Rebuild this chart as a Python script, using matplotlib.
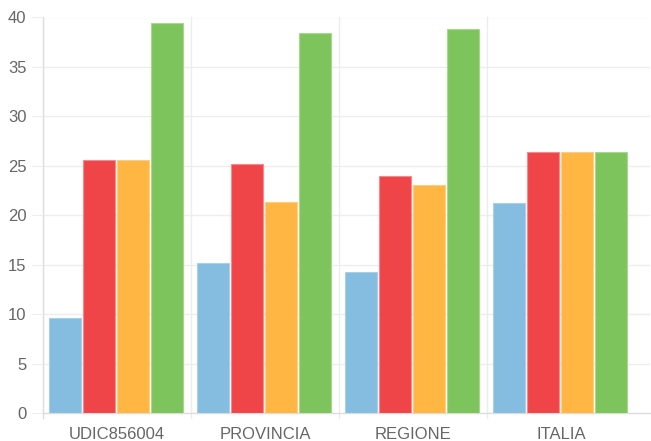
import matplotlib
matplotlib.use("Agg")
import matplotlib.pyplot as plt
import numpy as np

categories = ["UDIC856004", "PROVINCIA", "REGIONE", "ITALIA"]
series_blue = [9.6, 15.2, 14.3, 21.2]
series_red = [25.6, 25.2, 24.0, 26.4]
series_orange = [25.6, 21.3, 23.1, 26.4]
series_green = [39.4, 38.4, 38.8, 26.4]
yticks = [0, 5, 10, 15, 20, 25, 30, 35, 40]

colors = ["#85bde0", "#f04548", "#ffb642", "#7ec45c"]
edges = ["#a9d0ea", "#f58a8c", "#ffcd80", "#a8d88f"]

W, H = 651, 441
fig = plt.figure(figsize=(W / 100, H / 100), dpi=100)
left, right, top, bottom = 43, 650, 17.5, 413
ax = fig.add_axes([left / W, 1 - bottom / H, (right - left) / W, (bottom - top) / H])

cat_w = 148.0
x = np.arange(len(categories))
bw = 34.0 / cat_w
series = [series_blue, series_red, series_orange, series_green]
for i, s in enumerate(series):
    offs = (i - 1.5) * bw - 1.0 / cat_w
    ax.bar(x + offs, s, width=bw - 1.2 / cat_w, color=colors[i], edgecolor=edges[i],
           linewidth=0.8, zorder=3)

ax.set_xlim(-0.5, -0.5 + (right - left) / cat_w)
ax.set_ylim(0, 40)
ax.set_yticks(yticks)
ax.set_yticklabels([str(v) for v in yticks])
ax.set_xticks(x)
ax.set_xticklabels(categories)

grid_c = "#ededed"
for v in yticks[1:]:
    ax.axhline(v, color=grid_c, lw=1, zorder=1)
for b in [0.5, 1.5, 2.5]:
    ax.plot([b, b], [-0.55, 40], color=grid_c, lw=1, zorder=1, clip_on=False)
ax.plot([-0.5, -0.5], [-0.55, 40], color="#dcdcdc", lw=1, zorder=1, clip_on=False)

for sp in ["top", "right", "left"]:
    ax.spines[sp].set_visible(False)
ax.spines["bottom"].set_color("#dcdcdc")
ax.spines["bottom"].set_linewidth(1)

ax.tick_params(axis="y", length=8, color=grid_c, pad=4, labelsize=12, labelcolor="#666666")
ax.tick_params(axis="x", length=0, pad=10, labelsize=12, labelcolor="#666666")
for lab in ax.get_xticklabels() + ax.get_yticklabels():
    lab.set_fontfamily("Liberation Sans")

fig.savefig("out.png", dpi=100)
